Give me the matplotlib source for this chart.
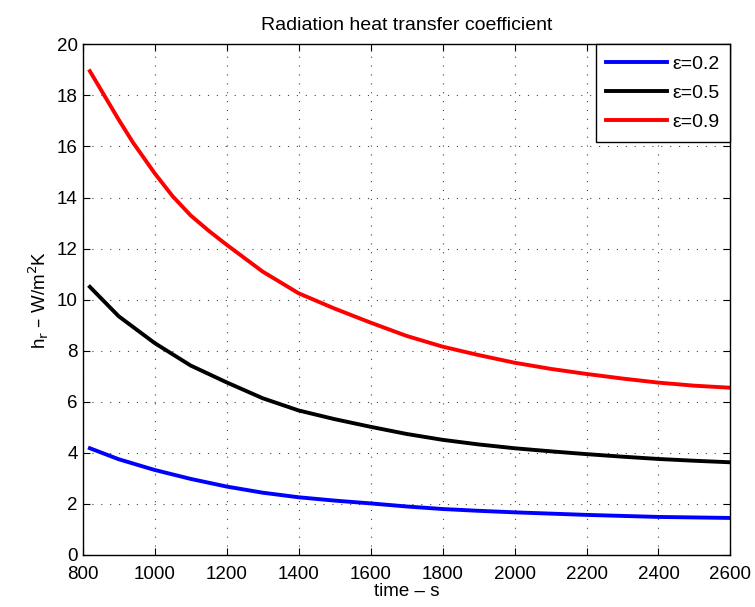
import matplotlib
matplotlib.use("Agg")
import matplotlib.pyplot as plt
import numpy as np

plt.rcParams['font.family'] = ['Liberation Sans', 'DejaVu Sans']

# time axis (s) and radiation heat transfer coefficients (W/m2K)
time = [820, 900, 1000, 1100, 1200, 1300, 1400, 1500, 1600, 1700, 1800,
        1900, 2000, 2100, 2200, 2300, 2400, 2500, 2600]
hr_02 = [4.18, 3.75, 3.33, 2.98, 2.68, 2.44, 2.26, 2.13, 2.02, 1.90, 1.80,
         1.73, 1.67, 1.62, 1.57, 1.53, 1.49, 1.47, 1.45]
hr_05 = [10.5, 9.35, 8.3, 7.42, 6.76, 6.14, 5.66, 5.32, 5.02, 4.74, 4.51,
         4.33, 4.18, 4.06, 3.95, 3.85, 3.76, 3.69, 3.63]
time_09 = [820, 860, 900, 940, 1000, 1050, 1100, 1150, 1200, 1300, 1400,
           1500, 1600, 1700, 1800, 1900, 2000, 2100, 2200, 2300, 2400, 2500, 2600]
hr_09 = [18.95, 18.0, 17.05, 16.15, 14.95, 14.05, 13.3, 12.7, 12.15, 11.1, 10.25,
         9.65, 9.1, 8.58, 8.16, 7.83, 7.53, 7.29, 7.09, 6.91, 6.75, 6.63, 6.55]
labels = ['\u03b5=0.2', '\u03b5=0.5', '\u03b5=0.9']

fig = plt.figure(figsize=(7.55, 6.07), dpi=100)
ax = fig.add_axes([0.1095, 0.0857, 0.858, 0.8413])

ax.plot(time, hr_02, color='#0000ff', lw=2.8, label=labels[0], solid_joinstyle='round')
ax.plot(time, hr_05, color='black', lw=2.8, label=labels[1], solid_joinstyle='round')
ax.plot(time_09, hr_09, color='#ff0000', lw=2.8, label=labels[2], solid_joinstyle='round')

ax.set_xlim(800, 2600)
ax.set_ylim(0, 20)
ax.set_xticks(np.arange(800, 2601, 200))
ax.set_yticks(np.arange(0, 21, 2))
ax.tick_params(direction='in', top=True, right=True, labelsize=13.5, length=5)
ax.tick_params(axis='x', pad=8)
ax.grid(True, color='#444444', linestyle=(0, (1, 7)), linewidth=0.8)
for s in ax.spines.values():
    s.set_linewidth(1.0)

ax.set_title('Radiation heat transfer coefficient', fontsize=14, pad=10)
ax.set_xlabel('time \u2013 s', fontsize=13.5, labelpad=0)
ax.set_ylabel('h$_{\\rm r}$ \u2013 W/m$^{\\rm 2}$K', fontsize=13.5)

leg = ax.legend(loc='upper right', fontsize=14, fancybox=False, framealpha=1,
                edgecolor='black', borderaxespad=0.0, handlelength=3.1,
                handletextpad=0.3, labelspacing=0.6, borderpad=0.55)
leg.get_frame().set_linewidth(1.0)

fig.savefig('out.png', dpi=100)
